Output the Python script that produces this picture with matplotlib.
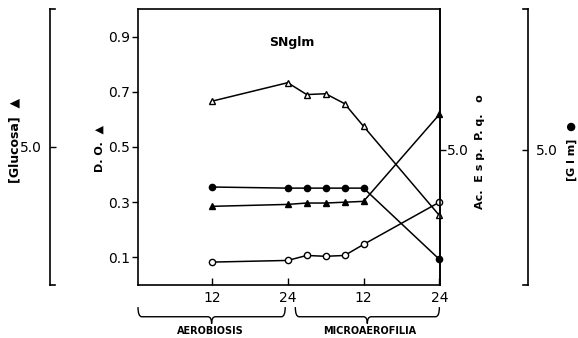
import numpy as np
import matplotlib.pyplot as plt
from matplotlib.path import Path
from matplotlib.patches import PathPatch

# horas de cultivo (12-24 aerobiosis, 24-48 microaerofilia)
horas = [12, 24, 27, 30, 33, 36, 48]
tick_pos = [12, 24, 36, 48]
tick_lab = ['12', '24', '12', '24']

# valores en escala D.O. del eje principal
do_abierto = [0.666, 0.733, 0.690, 0.693, 0.657, 0.575, 0.252]    # triángulo abierto
glm = [0.355, 0.351, 0.351, 0.351, 0.351, 0.351, 0.093]           # círculo lleno
do_lleno = [0.285, 0.292, 0.297, 0.297, 0.300, 0.303, 0.618]      # triángulo lleno
ac_esp = [0.083, 0.089, 0.107, 0.104, 0.107, 0.147, 0.300]        # círculo abierto

do_ticks = [0.1, 0.3, 0.5, 0.7, 0.9]

W, H = 578, 338
FONT = 'DejaVu Sans'
plt.rcParams['font.family'] = FONT


def px(x, y):
    """pixel -> coordenadas de figura"""
    return x / W, 1 - y / H


def draw_brace(ax, xa, xb, y0, y1, y2, r):
    """llave horizontal bajo el eje x (x en datos, y en ejes)"""
    xm = (xa + xb) / 2
    verts = [(xa, y0), (xa, y1), (xa + r, y1),
             (xm - r, y1),
             (xm, y1), (xm, y2),
             (xm, y1), (xm + r, y1),
             (xb - r, y1),
             (xb, y1), (xb, y0)]
    codes = [Path.MOVETO, Path.CURVE3, Path.CURVE3,
             Path.LINETO,
             Path.CURVE3, Path.CURVE3,
             Path.CURVE3, Path.CURVE3,
             Path.LINETO,
             Path.CURVE3, Path.CURVE3]
    patch = PathPatch(Path(verts, codes), fc='none', ec='k', lw=1.0,
                      transform=ax.get_xaxis_transform(), clip_on=False)
    ax.add_patch(patch)


fig = plt.figure(figsize=(W / 100, H / 100), dpi=100)
l, b = px(138, 285)
r_, t = px(440, 9)
ax = fig.add_axes([l, b, r_ - l, t - b])
ax_w = 440 - 138

ax.set_xlim(0.3, 48.1)
ax.set_ylim(0, 1.0)
ax.set_yticks(do_ticks)
ax.set_yticklabels([f'{v:.1f}' for v in do_ticks])
ax.set_xticks(tick_pos)
ax.set_xticklabels(tick_lab)
ax.tick_params(axis='y', direction='out', length=4, width=1, pad=2, labelsize=10)
ax.tick_params(axis='x', direction='in', length=5, width=1, pad=4, labelsize=10)
for s in ax.spines.values():
    s.set_linewidth(1.2)

mk = dict(color='k', lw=1.1, ms=4.5, mew=1.0, clip_on=False, zorder=3)
ax.plot(horas, do_abierto, marker='^', mfc='white', **mk)
ax.plot(horas, glm, marker='o', mfc='k', **mk)
ax.plot(horas, do_lleno, marker='^', mfc='k', **mk)
ax.plot(horas, ac_esp, marker='o', mfc='white', **mk)

ax.text(0.51, 0.88, 'SNglm', transform=ax.transAxes, ha='center', va='center',
        fontsize=9, fontweight='bold')

# llaves de las fases
draw_brace(ax, 0.3, 23.6, -0.08, -0.115, -0.14, 0.6)
draw_brace(ax, 25.2, 48.0, -0.08, -0.115, -0.14, 0.6)
ax.text(11.7, -0.165, 'AEROBIOSIS', transform=ax.get_xaxis_transform(),
        ha='center', va='center', fontsize=7, fontweight='bold')
ax.text(37.0, -0.165, 'MICROAEROFILIA', transform=ax.get_xaxis_transform(),
        ha='center', va='center', fontsize=7, fontweight='bold')


def side_axis(pos, side, direction, ylim, pad, serif):
    """eje secundario con una sola marca en 5.0"""
    a = ax.twinx()
    a.patch.set_visible(False)
    for k in ('top', 'bottom', 'left', 'right'):
        a.spines[k].set_visible(k == side)
    a.spines[side].set_position(('axes', pos))
    a.spines[side].set_linewidth(1.2)
    a.yaxis.set_ticks_position(side)
    a.set_ylim(*ylim)
    a.set_yticks([5.0])
    a.set_yticklabels(['5.0'])
    a.tick_params(axis='y', direction=direction, length=4, width=1,
                  pad=pad, labelsize=10)
    if serif:
        d = serif / ax_w
        for yy in (0, 1):
            a.plot([pos, pos + d], [yy, yy], color='k', lw=1.2,
                   transform=a.transAxes, clip_on=False)
    return a


side_axis((50 - 138) / ax_w, 'left', 'in', (0, 10), 6, 5)
side_axis(1.0, 'right', 'out', (0, 10.2), 1, 0)
side_axis((528 - 138) / ax_w, 'right', 'in', (0, 10.2), 6, -5)

# rótulos de los ejes
fig.text(*px(15, 140), '[Glucosa]  \u25b2', rotation=90, ha='center', va='center',
         fontsize=9, fontweight='bold')
fig.text(*px(100, 148), 'D. O.  \u25b2', rotation=90, ha='center', va='center',
         fontsize=8, fontweight='bold')
fig.text(*px(480, 152), 'Ac.  E s p.  P. q.   o', rotation=90, ha='center', va='center',
         fontsize=8, fontweight='bold')
fig.text(*px(572, 151), '[G l m]  \u25cf', rotation=90, ha='center', va='center',
         fontsize=8, fontweight='bold')

fig.savefig('out.png', dpi=100)
